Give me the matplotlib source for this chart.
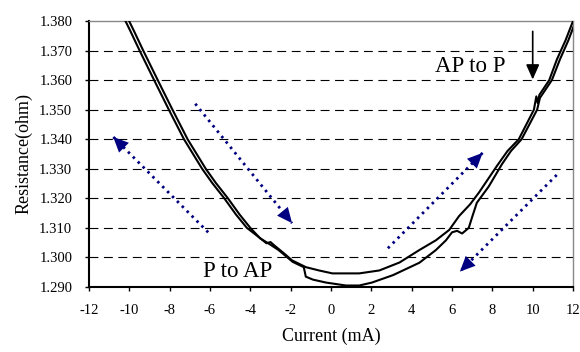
import numpy as np
import matplotlib.pyplot as plt

# ---- data ----
# sweep A (upper branch near the minimum)
curve_a_x = [-10.19, -9.94, -9.49, -8.77, -8.04, -7.29, -6.39, -5.89, -5.29, -4.71, -4.17, -3.64, -3.2, -3.0, -2.8,
             -2.3, -1.93, -1.24, -0.6, 0.07, 1.4, 2.4, 3.4, 4.38, 5.2, 5.86, 6.35, 6.9, 7.34, 8.23, 8.75,
             9.31, 10.06, 10.18, 10.25, 10.33, 10.82, 11.2, 11.63, 12.0]
curve_a_y = [1.380, 1.3765, 1.370, 1.360, 1.350, 1.340, 1.330, 1.3252, 1.320, 1.3145, 1.310, 1.3072, 1.3048, 1.3052, 1.3040,
             1.3012, 1.2990, 1.2967, 1.2956, 1.2946, 1.2946, 1.2956, 1.2983, 1.3025, 1.3058, 1.3093, 1.3140, 1.3180, 1.3220, 1.3310, 1.3360,
             1.3400, 1.3500, 1.3545, 1.3522, 1.3550, 1.3600, 1.3670, 1.3735, 1.380]

# sweep B (lower branch near the minimum)
curve_b_x = [-10.01, -9.76, -9.31, -8.59, -7.86, -7.11, -6.21, -5.71, -5.11, -4.53, -4.0, -3.52, -3.0, -2.6,
             -1.9, -1.35, -1.25, -0.9, -0.25, 0.74, 1.4, 2.03, 3.07, 4.38, 5.2, 5.7, 6.0, 6.25,
             6.5, 6.83, 7.0, 7.23, 7.82, 8.47, 8.92, 9.45, 10.22, 10.36, 10.95, 11.35, 11.77, 12.13]
curve_b_y = [1.380, 1.3765, 1.370, 1.360, 1.350, 1.340, 1.330, 1.3252, 1.320, 1.3145, 1.310, 1.3065, 1.3043, 1.3025,
             1.2985, 1.2967, 1.2935, 1.2925, 1.2915, 1.2905, 1.2905, 1.2915, 1.2940, 1.2982, 1.3025, 1.3058, 1.3085, 1.3090,
             1.3081, 1.3100, 1.3137, 1.3185, 1.3240, 1.3315, 1.3360, 1.3400, 1.3500, 1.3540, 1.3600, 1.3670, 1.3735, 1.380]

# sweep direction arrows (start -> tip)
arrow_starts = [(-6.09, 1.3085), (-6.73, 1.3520), (2.82, 1.3031), (11.19, 1.3279)]
arrow_tips = [(-10.8, 1.3408), (-1.93, 1.3116), (7.52, 1.3354), (6.39, 1.2952)]

xticks = np.arange(-12, 13, 2)
yticks = np.arange(1.290, 1.3801, 0.010)

serif = 'Liberation Serif'
navy = '#000080'

fig = plt.figure(figsize=(5.8, 3.52), dpi=100)
ax = fig.add_axes([0.1534, 0.1847, 0.8346, 0.7556])

#-- horizontal dashed grid --#
for yv in yticks[1:-1]:
    ax.axhline(yv, color='black', lw=0.8, dashes=(8, 5), zorder=1)

#-- the two sweeps --#
ax.plot(curve_a_x, curve_a_y, color='black', lw=1.5, zorder=3)
ax.plot(curve_b_x, curve_b_y, color='black', lw=1.5, zorder=3)

#-- dotted blue arrows: dotted stem + solid head --#
for (x0, y0), (x1, y1) in zip(arrow_starts, arrow_tips):
    ax.plot([x0, x1], [y0, y1], color=navy, lw=2.0, linestyle=(0, (0.9, 1.6)), zorder=4)
    ax.annotate('', xy=(x1, y1), xytext=(x0, y0),
                arrowprops=dict(arrowstyle='-|>,head_length=1.1,head_width=0.5',
                                color=navy, lw=0, shrinkA=0, shrinkB=0), zorder=5)

#-- black arrow + labels --#
ax.annotate('', xy=(10.0, 1.3602), xytext=(10.0, 1.3765),
            arrowprops=dict(arrowstyle='-|>,head_length=0.9,head_width=0.4',
                            color='black', lw=1.2, shrinkA=0, shrinkB=0), zorder=4)
ax.text(6.88, 1.3646, 'AP to P', fontsize=16.5, family=serif, ha='center', va='center')
ax.text(-4.65, 1.2952, 'P to AP', fontsize=16.5, family=serif, ha='center', va='center')

ax.set_xlim(-12, 12)
ax.set_ylim(1.290, 1.380)
ax.set_xticks(xticks)
ax.set_xticklabels([str(v) for v in xticks], family=serif, fontsize=10.5)
ax.set_yticks(yticks)
ax.set_yticklabels(['%.3f' % v for v in yticks], family=serif, fontsize=10.5)
ax.tick_params(direction='out', length=3, width=1, pad=9)

for s in ['left', 'bottom']:
    ax.spines[s].set_linewidth(1.5)
    ax.spines[s].set_color('black')
for s in ['top', 'right']:
    ax.spines[s].set_linewidth(1.0)
    ax.spines[s].set_color('#888888')

ax.set_xlabel('Current (mA)', family=serif, fontsize=13, labelpad=8)
ax.set_ylabel('Resistance(ohm)', family=serif, fontsize=13, labelpad=5)

fig.savefig('out.png', dpi=100)
